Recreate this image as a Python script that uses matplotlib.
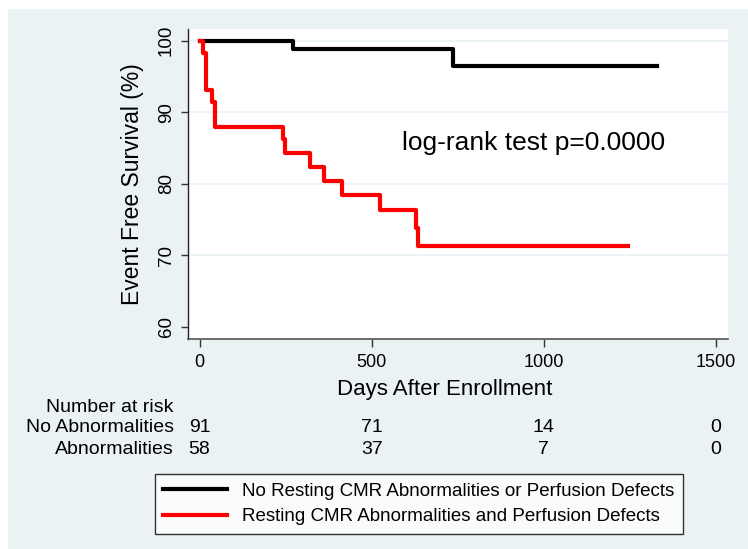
import matplotlib
matplotlib.use("Agg")
import matplotlib.pyplot as plt
import matplotlib.transforms as mtransforms
from matplotlib.patches import Rectangle

plt.rcParams['font.family'] = ['Liberation Sans', 'DejaVu Sans']

# --- DATA ---
no_abn_days = [0, 270, 735, 1328]
no_abn_surv = [100, 98.9, 96.5, 96.5]

abn_days = [0, 10, 20, 37, 45, 242, 247, 320, 362, 413, 523, 630, 634, 1244]
abn_surv = [100, 98.3, 93.1, 91.4, 87.9, 86.2, 84.3, 82.4, 80.4, 78.4, 76.3, 73.8, 71.3, 71.3]

risk_times = [0, 500, 1000, 1500]
risk_no_abn = [91, 71, 14, 0]
risk_abn = [58, 37, 7, 0]

x_ticks = [0, 500, 1000, 1500]
y_ticks = [60, 70, 80, 90, 100]
grid_levels = [70, 80, 90, 100]

BG = '#EAF2F3'
W, H = 748, 549

fig = plt.figure(figsize=(W / 100, H / 100), dpi=100)
fig.patch.set_facecolor('white')
# Stata-like outer panel (white strip on top and left)
fig.patches.append(Rectangle((8 / W, 0), 1 - 8 / W, 1 - 9 / H, transform=fig.transFigure,
                             facecolor=BG, edgecolor='none', zorder=-10))

ax = fig.add_axes([187.5 / W, 1 - 339 / H, (728 - 187.5) / W, (339 - 29) / H])
ax.set_facecolor('white')

for g in grid_levels:
    ax.axhline(g, color=BG, lw=1.2, zorder=1)

ax.step(no_abn_days, no_abn_surv, where='post', color='black', lw=3,
        label='No Resting CMR Abnormalities or Perfusion Defects', zorder=3)
ax.step(abn_days, abn_surv, where='post', color='#FF0000', lw=3,
        label='Resting CMR Abnormalities and Perfusion Defects', zorder=3)

ax.set_xlim(-35, 1535)
ax.set_ylim(58.28, 101.64)
ax.set_xticks(x_ticks)
ax.set_yticks(y_ticks)
ax.tick_params(axis='x', length=6, width=1, color='#333333', labelsize=13, pad=5)
ax.tick_params(axis='y', length=5, width=1, color='#333333', labelsize=13.5, pad=4)
for lab in ax.get_yticklabels():
    lab.set_rotation(90)
    lab.set_va('center')

for side in ['top', 'right']:
    ax.spines[side].set_visible(False)
ax.spines['left'].set_color('#222222')
ax.spines['bottom'].set_color('#555555')
ax.spines['left'].set_linewidth(1)
ax.spines['bottom'].set_linewidth(1.2)

ax.set_ylabel('Event Free Survival (%)', fontsize=16.5, labelpad=10)
fig.text(445 / W, 1 - 390 / H, 'Days After Enrollment', fontsize=16, ha='center', va='center')

ax.text(588, 85.7, 'log-rank test p=0.0000', fontsize=19, ha='left', va='center')

# number at risk table
fig.text(174 / W, 1 - 407 / H, 'Number at risk', fontsize=14, ha='right', va='center')
fig.text(174 / W, 1 - 428 / H, 'No Abnormalities', fontsize=14, ha='right', va='center')
fig.text(174 / W, 1 - 449 / H, 'Abnormalities', fontsize=14, ha='right', va='center')
trans = mtransforms.blended_transform_factory(ax.transData, fig.transFigure)
for t, n1, n2 in zip(risk_times, risk_no_abn, risk_abn):
    ax.text(t, 1 - 428 / H, str(n1), fontsize=14, ha='center', va='center', transform=trans)
    ax.text(t, 1 - 449 / H, str(n2), fontsize=14, ha='center', va='center', transform=trans)

leg = fig.legend(loc='upper left', bbox_to_anchor=(155 / W, 1 - 474 / H),
                 fontsize=13.5, frameon=True, fancybox=False, edgecolor='black',
                 handlelength=3.4, handletextpad=0.8, labelspacing=0.45,
                 borderpad=0.45, borderaxespad=0)
leg.get_frame().set_linewidth(1)

fig.savefig('out.png', dpi=100)
